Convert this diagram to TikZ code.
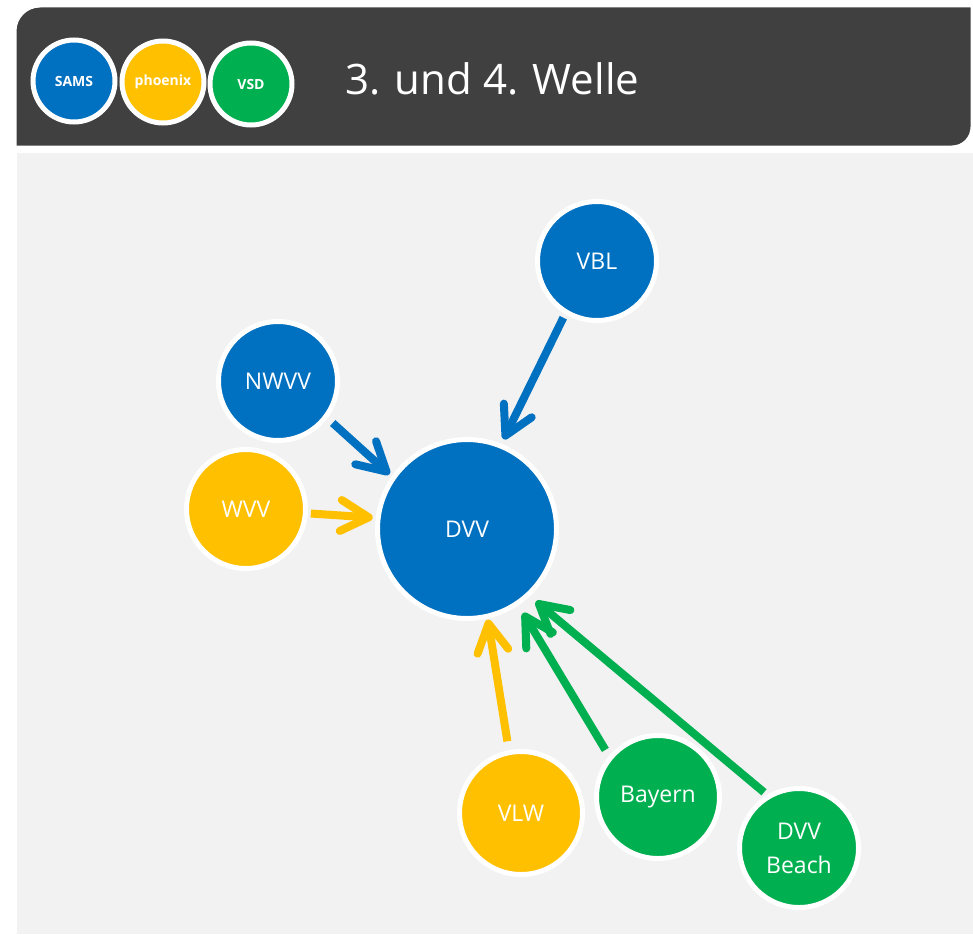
\documentclass[tikz,border=0pt]{standalone}
\usepackage{fontspec}
\setmainfont{Open Sans}
\usetikzlibrary{arrows.meta}
\definecolor{cblue}{HTML}{0070C0}
\definecolor{cyellow}{HTML}{FFC000}
\definecolor{cgreen}{HTML}{00B050}
\definecolor{cdark}{HTML}{404040}
\definecolor{cbg}{HTML}{F2F2F2}
\begin{document}
\begin{tikzpicture}[x=1pt,y=-1pt,
  ball/.style={circle, draw=white, line width=5pt, text=white, inner sep=0pt, align=center, font=\fontsize{23}{34}\selectfont},
  small/.style={ball, minimum size=119pt},
  mid/.style={ball, minimum size=123pt},
  big/.style={ball, minimum size=179pt},
  legend/.style={circle, draw=white, line width=5pt, text=white, inner sep=0pt, minimum size=82pt, font=\bfseries\fontsize{14}{16}\selectfont},
  link/.style={line width=8pt, -{Straight Barb[length=28pt,width=31pt,line cap=round,line join=round]}},
]
\useasboundingbox (0,0) rectangle (973,934);
\fill[white] (0,0) rectangle (973,934);
\fill[cbg] (17,153) rectangle (973,934);
\draw[fill=cdark, draw=white, line width=3pt] (15,147) -- (15,31) arc[start angle=180, end angle=270, radius=25] -- (972,6) -- (972,127) arc[start angle=0, end angle=90, radius=20] -- cycle;
\node[legend, fill=cblue] (sams) at (74,81) {SAMS};
\node[legend, fill=cyellow] (phoenix) at (163,82) {phoenix};
\node[legend, fill=cgreen] (vsd) at (251,84) {VSD};
\node[anchor=base west, inner sep=0pt, text=white, font=\fontsize{42}{50}\selectfont] (title) at (345,94) {3. und 4. Welle};
\node[big, fill=cblue] (dvv) at (467,529) {DVV};
\node[small, fill=cblue] (vbl) at (597,261) {VBL};
\node[small, fill=cblue] (nwvv) at (278,381) {NWVV};
\node[small, fill=cyellow] (wvv) at (246,509) {WVV};
\node[mid, fill=cyellow] (vlw) at (521,813) {VLW};
\node[mid, fill=cgreen] (bayern) at (658,797) {Bayern};
\node[small, fill=cgreen] (beach) at (799,848) {DVV\\Beach};
\draw[cblue, link, shorten <=4pt, shorten >=5pt] (vbl.-121) -- (dvv.68);
\draw[cblue, link, shorten <=7pt, shorten >=3pt] (nwvv.-37) -- (dvv.145);
\draw[cyellow, link, shorten <=3pt, shorten >=3pt] (wvv.-4) -- (dvv.173);
\draw[cyellow, link, shorten <=9pt, shorten >=1pt] (vlw.101) -- (dvv.-77);
\draw[cgreen, link, shorten <=7pt, shorten >=9pt] (bayern.140) -- (dvv.-56);
\draw[cgreen, link, shorten <=4pt, shorten >=8pt] (beach.121) -- (dvv.-47);
\end{tikzpicture}
\end{document}
